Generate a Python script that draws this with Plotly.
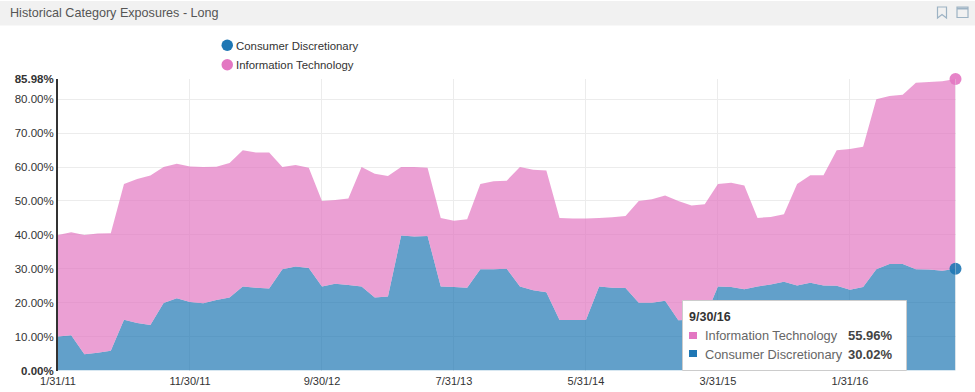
import plotly.graph_objects as go

W, H = 975, 392
FONT = "Liberation Sans, Arial, sans-serif"

months = [31, 28, 31, 30, 31, 30, 31, 31, 30, 31, 30, 31]
dates = []
for y in range(2011, 2017):
    for m in range(1, 13):
        d = months[m - 1]
        if y == 2012 and m == 2 or y == 2016 and m == 2:
            d = 29
        if y == 2016 and m > 9:
            continue
        dates.append(f"{m}/{d}/{str(y)[2:]}")

consumer_discretionary = [
    10, 10.4, 4.8, 5.2, 5.8, 15, 14, 13.4, 19.9, 21.3,
    20.2, 19.8, 20.8, 21.5, 24.8, 24.4, 24.2, 29.9, 30.7, 30.2,
    24.8, 25.6, 25.2, 24.8, 21.5, 21.8, 39.8, 39.5, 39.7, 24.8,
    24.6, 24.4, 29.9, 29.9, 30, 24.8, 23.7, 23.1, 14.9, 14.9,
    14.9, 24.8, 24.4, 24.3, 20, 20, 20.6, 14.8, 15, 15.5,
    24.8, 24.6, 24, 24.8, 25.4, 26.2, 25.1, 25.9, 25.1, 25,
    23.8, 24.6, 29.9, 31.4, 31.4, 29.9, 29.8, 29.4, 30.02,
]
information_technology = [
    30, 30.4, 35.2, 35.2, 34.7, 40, 42.5, 44.1, 40.1, 39.7,
    40, 40.2, 39.3, 39.7, 40.2, 39.9, 40.1, 30.1, 29.9, 29.6,
    25.2, 24.7, 25.5, 35.2, 36.5, 35.6, 20.2, 20.5, 20.1, 20.2,
    19.6, 20.2, 25.1, 25.9, 26, 35.2, 35.5, 35.9, 30.1, 29.9,
    29.9, 20.2, 20.8, 21.3, 30, 30.5, 31, 35.2, 33.7, 33.5,
    30.2, 30.8, 30.6, 20.2, 19.9, 19.9, 29.9, 31.7, 32.5, 40,
    41.5, 41.4, 50.1, 49.6, 49.9, 55, 55.3, 55.9, 55.96,
]
y_ticks = [0, 10, 20, 30, 40, 50, 60, 70, 80, 85.98]
y_labels = ["<b>0.00%</b>", "10.00%", "20.00%", "30.00%", "40.00%", "50.00%",
            "60.00%", "70.00%", "80.00%", "<b>85.98%</b>"]
x_ticks = ["1/31/11", "11/30/11", "9/30/12", "7/31/13", "5/31/14", "3/31/15", "1/31/16"]
total_top = 85.98

BLUE, PINK = "#1f77b4", "#e377c2"
BLUE_FILL, PINK_FILL = "rgba(31,119,180,0.7)", "rgba(227,119,194,0.7)"

def px(x):
    return x / W

def py(y):
    return 1 - y / H

fig = go.Figure()
fig.add_trace(go.Scatter(x=dates, y=consumer_discretionary, name="Consumer Discretionary",
                         mode="none", stackgroup="one", fillcolor=BLUE_FILL, hoverinfo="skip"))
fig.add_trace(go.Scatter(x=dates, y=information_technology, name="Information Technology",
                         mode="none", stackgroup="one", fillcolor=PINK_FILL, hoverinfo="skip"))
fig.add_trace(go.Scatter(x=[dates[-1]], y=[consumer_discretionary[-1]], mode="markers", cliponaxis=False,
                         marker=dict(color=BLUE, size=12, opacity=0.9), hoverinfo="skip"))
fig.add_trace(go.Scatter(x=[dates[-1]], y=[total_top], mode="markers", cliponaxis=False,
                         marker=dict(color=PINK, size=12, opacity=0.9), hoverinfo="skip"))

shapes = [
    dict(type="rect", xref="paper", yref="paper", x0=0, x1=1, y0=py(25.5), y1=py(1),
         fillcolor="#f1f1f1", line_width=0, layer="below"),
    # header icons
    dict(type="path", xref="paper", yref="paper", line=dict(color="#9db3c4", width=1.2),
         path=f"M {px(937.5)} {py(7)} L {px(946.5)} {py(7)} L {px(946.5)} {py(18)} L {px(942)} {py(14.5)} "
              f"L {px(937.5)} {py(18)} Z"),
    dict(type="rect", xref="paper", yref="paper", x0=px(957), x1=px(968), y0=py(17.5), y1=py(7),
         line=dict(color="#9db3c4", width=1.2)),
    dict(type="line", xref="paper", yref="paper", x0=px(957), x1=px(968), y0=py(8.5), y1=py(8.5),
         line=dict(color="#9db3c4", width=2)),
    # legend dots
    dict(type="circle", xref="paper", yref="paper", x0=px(221.5), x1=px(233), y0=py(51), y1=py(39.5),
         fillcolor=BLUE, line_width=0),
    dict(type="circle", xref="paper", yref="paper", x0=px(221.5), x1=px(233), y0=py(70.5), y1=py(59),
         fillcolor=PINK, line_width=0),
    # cursor line on the last point
    dict(type="line", x0=dates[-1], x1=dates[-1], yref="paper", y0=py(370.5), y1=py(79),
         line=dict(color="rgba(225,225,225,0.7)", width=1), layer="above"),
    # tooltip
    dict(type="rect", xref="paper", yref="paper", x0=px(682.5), x1=px(906.5), y0=py(370.5), y1=py(300.5),
         fillcolor="white", line=dict(color="#cccccc", width=1)),
    dict(type="rect", xref="paper", yref="paper", x0=px(689), x1=px(697), y0=py(339), y1=py(332),
         fillcolor=PINK, line_width=0),
    dict(type="rect", xref="paper", yref="paper", x0=px(689), x1=px(697), y0=py(357), y1=py(350),
         fillcolor=BLUE, line_width=0),
]

def label(x, y, text, size=12, color="#333333", anchor="left"):
    return dict(xref="paper", yref="paper", x=px(x), y=py(y), text=text, showarrow=False,
                xanchor=anchor, yanchor="middle", borderpad=0, borderwidth=0,
                font=dict(family=FONT, size=size, color=color))

annotations = [
    label(10, 13, "Historical Category Exposures - Long", 12.6, "#555555"),
    label(236, 45.5, "Consumer Discretionary", 11.4, "#333333"),
    label(236, 64.5, "Information Technology", 11.4, "#333333"),
    label(689, 317, "<b>9/30/16</b>", 12.5, "#333333"),
    label(705, 335, "Information Technology", 12.8, "#666666"),
    label(705, 354, "Consumer Discretionary", 12.8, "#666666"),
    label(848, 335, "<b>55.96%</b>", 13, "#444444"),
    label(848, 354, "<b>30.02%</b>", 13, "#444444"),
]

fig.update_layout(
    width=W, height=H, autosize=False,
    margin=dict(l=0, r=0, t=0, b=0, pad=0, autoexpand=False),
    paper_bgcolor="white", plot_bgcolor="white",
    showlegend=False, hovermode=False,
    shapes=shapes, annotations=annotations,
    font=dict(family=FONT, size=12, color="#333333"),
    xaxis=dict(domain=[px(58), px(955.5)], type="category", categoryorder="array", categoryarray=dates,
               range=[0, len(dates) - 1], tickmode="array", tickvals=x_ticks, ticktext=x_ticks,
               automargin=False, ticklabelstandoff=2,
               showgrid=True, gridcolor="#ececec", gridwidth=1, zeroline=False, showline=False,
               ticks="", tickfont=dict(family=FONT, size=11, color="#333333")),
    yaxis=dict(domain=[py(370.5), py(79)], range=[0, total_top], tickmode="array", tickvals=y_ticks,
               ticktext=y_labels, showgrid=True, gridcolor="#ececec", gridwidth=1, zeroline=False,
               automargin=False,
               showline=True, linecolor="#333333", linewidth=2, ticks="",
               tickfont=dict(family=FONT, size=11.5, color="#333333")),
)

fig.write_html("out.html", config=dict(displayModeBar=False),
               post_script="document.body.style.margin='0';")
